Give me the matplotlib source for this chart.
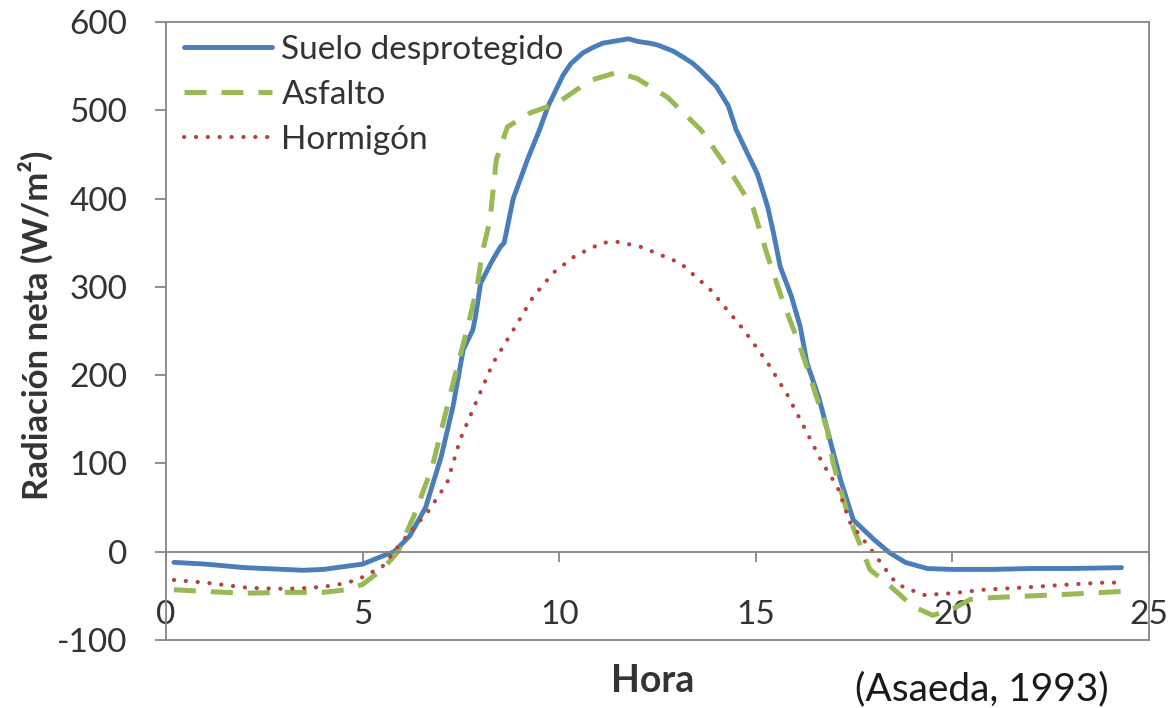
import matplotlib
matplotlib.use("Agg")
import matplotlib.pyplot as plt

plt.rcParams['font.family'] = ['Lato', 'DejaVu Sans']
plt.rcParams['axes.unicode_minus'] = False

# hourly net radiation curves, read as (hour, W/m2) pairs
hora_suelo = [0.2, 1, 2, 3, 3.5, 4, 4.5, 5, 5.5, 5.8, 6.2, 6.6, 7.0, 7.3, 7.56,
              7.8, 7.87, 8.0, 8.3, 8.5, 8.6, 8.83, 9.2, 9.5, 9.72, 10.1, 10.3,
              10.6, 10.85, 11.1, 11.5, 11.76, 12.0, 12.3, 12.5, 12.9, 13.16, 13.4,
              13.6, 14.0, 14.3, 14.5, 14.8, 15.04, 15.3, 15.45, 15.62, 15.9,
              16.13, 16.3, 16.6, 16.82, 17.15, 17.48, 18.0, 18.4, 18.8, 19.36,
              20, 21, 22, 23, 24.3]
suelo = [-12, -14, -18, -20, -21, -20, -17, -14, -5, 0, 18, 50, 108, 165, 229,
         251, 266, 304, 330, 345, 350, 400, 445, 478, 505, 540, 553,
         565, 571, 576, 579, 581, 578, 576, 574, 567, 560, 553,
         545, 527, 505, 478, 450, 428, 391, 361, 323, 290,
         255, 214, 175, 138, 82, 36, 14, -1, -12, -19,
         -20, -20, -19, -19, -18]

hora_asfalto = [0.2, 1, 2, 3, 4, 4.6, 5, 5.5, 5.9, 6.3, 6.77, 7.3, 7.65, 7.9,
                8.04, 8.24, 8.4, 8.68, 9.0, 9.26, 9.95, 10.4, 10.8, 11.47, 11.98,
                12.75, 13.6, 14.43, 14.94, 15.3, 15.7, 16.13, 16.46, 16.82, 16.97,
                17.33, 17.9, 18.42, 19.0, 19.5, 20.0, 20.45, 21, 22, 23, 24.3]
asfalto = [-43, -45, -47, -46, -46, -43, -37, -20, 0, 40, 96, 191, 251, 297,
           338, 376, 444, 481, 490, 497, 508, 522, 534, 543, 536,
           515, 478, 425, 388, 335, 282, 232, 187, 138, 100,
           44, -20, -39, -62, -72, -65, -54, -52, -50, -48, -45]

hora_hormigon = [0.2, 1, 2.1, 3, 3.66, 4.3, 4.86, 5.5, 5.8, 6.2, 6.64, 7.15, 7.48,
                 7.91, 8.32, 8.83, 9.34, 9.85, 10.4, 11.1, 11.5, 12.1, 13.08, 13.84,
                 14.7, 15.3, 15.8, 16.3, 16.7, 17.07, 17.4, 17.99, 18.4, 18.6,
                 19.27, 20.0, 20.8, 22, 23, 23.85, 24.3]
hormigon = [-32, -35, -41, -42, -41, -38, -32, -17, 0, 22, 44, 78, 127,
            172, 214, 251, 289, 316, 335, 350, 351, 345, 327, 297,
            251, 214, 178, 135, 100, 74, 33, -1, -26, -37,
            -49, -47, -43, -40, -37, -35, -35]

x_ticks = [0, 5, 10, 15, 20, 25]
y_ticks = [-100, 0, 100, 200, 300, 400, 500, 600]

azul = '#4a7ebb'
verde = '#98b954'
rojo = '#b4433f'
gris = '#868686'
texto = '#333333'

fig = plt.figure(figsize=(11.71, 7.08), dpi=100)
ax = fig.add_axes([0.1418, 0.0960, 0.8394, 0.8729])

ax.plot(hora_suelo, suelo, color=azul, lw=3.5, solid_capstyle='round',
        solid_joinstyle='round', label='Suelo desprotegido')
ax.plot(hora_asfalto, asfalto, color=verde, lw=3.6, linestyle=(0, (4.4, 3.0)),
        label='Asfalto')
ax.plot(hora_hormigon, hormigon, color=rojo, lw=3.0, linestyle=(0, (0.05, 2.8)),
        dash_capstyle='round', label='Hormigón')

ax.set_xlim(0, 25)
ax.set_ylim(-100, 600)
ax.set_xticks(x_ticks)
ax.set_yticks(y_ticks)

# x axis crosses at zero, plot area keeps a frame
ax.spines['bottom'].set_position(('data', 0))
for s in ax.spines.values():
    s.set_color(gris)
    s.set_linewidth(1.3)
ax.plot([0, 1], [0, 0], transform=ax.transAxes, color=gris, lw=1.3, clip_on=False)

ax.tick_params(axis='x', direction='out', length=7, width=1.3, color=gris,
               labelsize=24, labelcolor=texto, pad=28)
ax.tick_params(axis='y', direction='out', length=8, width=1.3, color=gris,
               labelsize=24, labelcolor=texto, pad=20)

fig.text(0.031, 0.541, 'Radiación neta (W/m²)', rotation=90, fontsize=25,
         fontweight='bold', color=texto, ha='center', va='center')
fig.text(0.557, 0.038, 'Hora', fontsize=27, fontweight='bold', color=texto,
         ha='center', va='center')
fig.text(0.8386, 0.026, '(Asaeda, 1993)', fontsize=28, color='#1a1a1a',
         ha='center', va='center')

leg = ax.legend(loc='upper left', bbox_to_anchor=(-0.002, 1.012), frameon=False,
                fontsize=24, handlelength=2.65, handletextpad=0.27,
                labelspacing=0.45, borderaxespad=0.2)
for t in leg.get_texts():
    t.set_color(texto)

fig.savefig('out.png', dpi=100, facecolor='white')
